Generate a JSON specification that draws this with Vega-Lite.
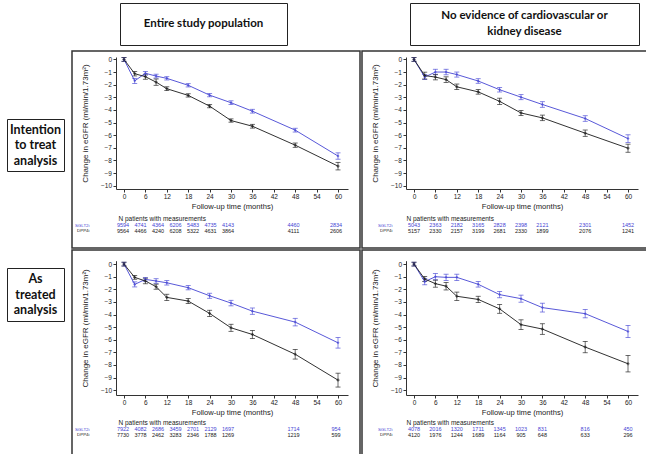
{
"$schema": "https://vega.github.io/schema/vega-lite/v6.json",
"padding": {"left": 6, "top": 2, "right": 0, "bottom": 0},
"config": {"view": {"stroke": null}, "font": "Liberation Sans", "concat": {"spacing": 0}},
"datasets": {
"series": [
{"panel":"TL","drug":"SGLT2i","month":0,"mean":0,"lo":-0.15,"hi":0.15},
{"panel":"TL","drug":"SGLT2i","month":3,"mean":-1.7,"lo":-1.9,"hi":-1.5},
{"panel":"TL","drug":"SGLT2i","month":6,"mean":-1.1,"lo":-1.25,"hi":-0.95},
{"panel":"TL","drug":"SGLT2i","month":9,"mean":-1.32,"lo":-1.47,"hi":-1.17},
{"panel":"TL","drug":"SGLT2i","month":12,"mean":-1.5,"lo":-1.63,"hi":-1.37},
{"panel":"TL","drug":"SGLT2i","month":18,"mean":-2.05,"lo":-2.18,"hi":-1.92},
{"panel":"TL","drug":"SGLT2i","month":24,"mean":-2.83,"lo":-2.96,"hi":-2.7},
{"panel":"TL","drug":"SGLT2i","month":30,"mean":-3.43,"lo":-3.58,"hi":-3.28},
{"panel":"TL","drug":"SGLT2i","month":36,"mean":-4.1,"lo":-4.25,"hi":-3.95},
{"panel":"TL","drug":"SGLT2i","month":48,"mean":-5.6,"lo":-5.75,"hi":-5.45},
{"panel":"TL","drug":"SGLT2i","month":60,"mean":-7.65,"lo":-7.9,"hi":-7.4},
{"panel":"TL","drug":"DPP4i","month":0,"mean":0,"lo":-0.15,"hi":0.15},
{"panel":"TL","drug":"DPP4i","month":3,"mean":-1.13,"lo":-1.31,"hi":-0.95},
{"panel":"TL","drug":"DPP4i","month":6,"mean":-1.37,"lo":-1.57,"hi":-1.17},
{"panel":"TL","drug":"DPP4i","month":9,"mean":-1.8,"lo":-2.05,"hi":-1.55},
{"panel":"TL","drug":"DPP4i","month":12,"mean":-2.32,"lo":-2.47,"hi":-2.17},
{"panel":"TL","drug":"DPP4i","month":18,"mean":-2.85,"lo":-2.98,"hi":-2.72},
{"panel":"TL","drug":"DPP4i","month":24,"mean":-3.7,"lo":-3.83,"hi":-3.57},
{"panel":"TL","drug":"DPP4i","month":30,"mean":-4.84,"lo":-4.97,"hi":-4.71},
{"panel":"TL","drug":"DPP4i","month":36,"mean":-5.29,"lo":-5.44,"hi":-5.14},
{"panel":"TL","drug":"DPP4i","month":48,"mean":-6.79,"lo":-6.96,"hi":-6.62},
{"panel":"TL","drug":"DPP4i","month":60,"mean":-8.45,"lo":-8.75,"hi":-8.15},
{"panel":"TR","drug":"SGLT2i","month":0,"mean":0,"lo":-0.15,"hi":0.15},
{"panel":"TR","drug":"SGLT2i","month":3,"mean":-1.4,"lo":-1.6,"hi":-1.2},
{"panel":"TR","drug":"SGLT2i","month":6,"mean":-1.0,"lo":-1.22,"hi":-0.78},
{"panel":"TR","drug":"SGLT2i","month":9,"mean":-1.0,"lo":-1.22,"hi":-0.78},
{"panel":"TR","drug":"SGLT2i","month":12,"mean":-1.2,"lo":-1.4,"hi":-1.0},
{"panel":"TR","drug":"SGLT2i","month":18,"mean":-1.71,"lo":-1.89,"hi":-1.53},
{"panel":"TR","drug":"SGLT2i","month":24,"mean":-2.4,"lo":-2.58,"hi":-2.22},
{"panel":"TR","drug":"SGLT2i","month":30,"mean":-2.99,"lo":-3.19,"hi":-2.79},
{"panel":"TR","drug":"SGLT2i","month":36,"mean":-3.57,"lo":-3.79,"hi":-3.35},
{"panel":"TR","drug":"SGLT2i","month":48,"mean":-4.68,"lo":-4.9,"hi":-4.46},
{"panel":"TR","drug":"SGLT2i","month":60,"mean":-6.27,"lo":-6.57,"hi":-5.97},
{"panel":"TR","drug":"DPP4i","month":0,"mean":0,"lo":-0.15,"hi":0.15},
{"panel":"TR","drug":"DPP4i","month":3,"mean":-1.28,"lo":-1.55,"hi":-1.01},
{"panel":"TR","drug":"DPP4i","month":6,"mean":-1.4,"lo":-1.62,"hi":-1.18},
{"panel":"TR","drug":"DPP4i","month":9,"mean":-1.6,"lo":-1.82,"hi":-1.38},
{"panel":"TR","drug":"DPP4i","month":12,"mean":-2.17,"lo":-2.39,"hi":-1.95},
{"panel":"TR","drug":"DPP4i","month":18,"mean":-2.57,"lo":-2.75,"hi":-2.39},
{"panel":"TR","drug":"DPP4i","month":24,"mean":-3.32,"lo":-3.57,"hi":-3.07},
{"panel":"TR","drug":"DPP4i","month":30,"mean":-4.24,"lo":-4.44,"hi":-4.04},
{"panel":"TR","drug":"DPP4i","month":36,"mean":-4.63,"lo":-4.85,"hi":-4.41},
{"panel":"TR","drug":"DPP4i","month":48,"mean":-5.84,"lo":-6.09,"hi":-5.59},
{"panel":"TR","drug":"DPP4i","month":60,"mean":-7.03,"lo":-7.35,"hi":-6.71},
{"panel":"BL","drug":"SGLT2i","month":0,"mean":0,"lo":-0.15,"hi":0.15},
{"panel":"BL","drug":"SGLT2i","month":3,"mean":-1.61,"lo":-1.81,"hi":-1.41},
{"panel":"BL","drug":"SGLT2i","month":6,"mean":-1.21,"lo":-1.36,"hi":-1.06},
{"panel":"BL","drug":"SGLT2i","month":9,"mean":-1.34,"lo":-1.52,"hi":-1.16},
{"panel":"BL","drug":"SGLT2i","month":12,"mean":-1.48,"lo":-1.66,"hi":-1.3},
{"panel":"BL","drug":"SGLT2i","month":18,"mean":-1.87,"lo":-2.04,"hi":-1.7},
{"panel":"BL","drug":"SGLT2i","month":24,"mean":-2.51,"lo":-2.71,"hi":-2.31},
{"panel":"BL","drug":"SGLT2i","month":30,"mean":-3.09,"lo":-3.31,"hi":-2.87},
{"panel":"BL","drug":"SGLT2i","month":36,"mean":-3.73,"lo":-3.98,"hi":-3.48},
{"panel":"BL","drug":"SGLT2i","month":48,"mean":-4.6,"lo":-4.9,"hi":-4.3},
{"panel":"BL","drug":"SGLT2i","month":60,"mean":-6.24,"lo":-6.66,"hi":-5.82},
{"panel":"BL","drug":"DPP4i","month":0,"mean":0,"lo":-0.15,"hi":0.15},
{"panel":"BL","drug":"DPP4i","month":3,"mean":-1.05,"lo":-1.2,"hi":-0.9},
{"panel":"BL","drug":"DPP4i","month":6,"mean":-1.34,"lo":-1.56,"hi":-1.12},
{"panel":"BL","drug":"DPP4i","month":9,"mean":-1.79,"lo":-1.99,"hi":-1.59},
{"panel":"BL","drug":"DPP4i","month":12,"mean":-2.64,"lo":-2.89,"hi":-2.39},
{"panel":"BL","drug":"DPP4i","month":18,"mean":-2.93,"lo":-3.13,"hi":-2.73},
{"panel":"BL","drug":"DPP4i","month":24,"mean":-3.91,"lo":-4.16,"hi":-3.66},
{"panel":"BL","drug":"DPP4i","month":30,"mean":-5.05,"lo":-5.33,"hi":-4.77},
{"panel":"BL","drug":"DPP4i","month":36,"mean":-5.58,"lo":-5.9,"hi":-5.26},
{"panel":"BL","drug":"DPP4i","month":48,"mean":-7.15,"lo":-7.53,"hi":-6.77},
{"panel":"BL","drug":"DPP4i","month":60,"mean":-9.2,"lo":-9.75,"hi":-8.65},
{"panel":"BR","drug":"SGLT2i","month":0,"mean":0,"lo":-0.15,"hi":0.15},
{"panel":"BR","drug":"SGLT2i","month":3,"mean":-1.39,"lo":-1.64,"hi":-1.14},
{"panel":"BR","drug":"SGLT2i","month":6,"mean":-1.0,"lo":-1.25,"hi":-0.75},
{"panel":"BR","drug":"SGLT2i","month":9,"mean":-1.05,"lo":-1.3,"hi":-0.8},
{"panel":"BR","drug":"SGLT2i","month":12,"mean":-1.05,"lo":-1.3,"hi":-0.8},
{"panel":"BR","drug":"SGLT2i","month":18,"mean":-1.6,"lo":-1.82,"hi":-1.38},
{"panel":"BR","drug":"SGLT2i","month":24,"mean":-2.42,"lo":-2.67,"hi":-2.17},
{"panel":"BR","drug":"SGLT2i","month":30,"mean":-2.74,"lo":-3.02,"hi":-2.46},
{"panel":"BR","drug":"SGLT2i","month":36,"mean":-3.45,"lo":-3.8,"hi":-3.1},
{"panel":"BR","drug":"SGLT2i","month":48,"mean":-3.93,"lo":-4.26,"hi":-3.6},
{"panel":"BR","drug":"SGLT2i","month":60,"mean":-5.34,"lo":-5.82,"hi":-4.86},
{"panel":"BR","drug":"DPP4i","month":0,"mean":0,"lo":-0.15,"hi":0.15},
{"panel":"BR","drug":"DPP4i","month":3,"mean":-1.18,"lo":-1.38,"hi":-0.98},
{"panel":"BR","drug":"DPP4i","month":6,"mean":-1.55,"lo":-1.83,"hi":-1.27},
{"panel":"BR","drug":"DPP4i","month":9,"mean":-1.75,"lo":-2.05,"hi":-1.45},
{"panel":"BR","drug":"DPP4i","month":12,"mean":-2.55,"lo":-2.88,"hi":-2.22},
{"panel":"BR","drug":"DPP4i","month":18,"mean":-2.8,"lo":-3.05,"hi":-2.55},
{"panel":"BR","drug":"DPP4i","month":24,"mean":-3.55,"lo":-3.9,"hi":-3.2},
{"panel":"BR","drug":"DPP4i","month":30,"mean":-4.8,"lo":-5.18,"hi":-4.42},
{"panel":"BR","drug":"DPP4i","month":36,"mean":-5.15,"lo":-5.57,"hi":-4.73},
{"panel":"BR","drug":"DPP4i","month":48,"mean":-6.58,"lo":-7.03,"hi":-6.13},
{"panel":"BR","drug":"DPP4i","month":60,"mean":-7.9,"lo":-8.55,"hi":-7.25}
],
"ns": [
{"panel":"TL","drug":"SGLT2i","month":0,"n":"9594"},{"panel":"TL","drug":"SGLT2i","month":6,"n":"4741"},{"panel":"TL","drug":"SGLT2i","month":12,"n":"4364"},{"panel":"TL","drug":"SGLT2i","month":18,"n":"6206"},{"panel":"TL","drug":"SGLT2i","month":24,"n":"5483"},{"panel":"TL","drug":"SGLT2i","month":30,"n":"4735"},{"panel":"TL","drug":"SGLT2i","month":36,"n":"4143"},{"panel":"TL","drug":"SGLT2i","month":48,"n":"4460"},{"panel":"TL","drug":"SGLT2i","month":60,"n":"2834"},
{"panel":"TL","drug":"DPP4i","month":0,"n":"9564"},{"panel":"TL","drug":"DPP4i","month":6,"n":"4466"},{"panel":"TL","drug":"DPP4i","month":12,"n":"4240"},{"panel":"TL","drug":"DPP4i","month":18,"n":"6208"},{"panel":"TL","drug":"DPP4i","month":24,"n":"5322"},{"panel":"TL","drug":"DPP4i","month":30,"n":"4631"},{"panel":"TL","drug":"DPP4i","month":36,"n":"3864"},{"panel":"TL","drug":"DPP4i","month":48,"n":"4111"},{"panel":"TL","drug":"DPP4i","month":60,"n":"2606"},
{"panel":"TR","drug":"SGLT2i","month":0,"n":"5043"},{"panel":"TR","drug":"SGLT2i","month":6,"n":"2363"},{"panel":"TR","drug":"SGLT2i","month":12,"n":"2182"},{"panel":"TR","drug":"SGLT2i","month":18,"n":"3165"},{"panel":"TR","drug":"SGLT2i","month":24,"n":"2828"},{"panel":"TR","drug":"SGLT2i","month":30,"n":"2398"},{"panel":"TR","drug":"SGLT2i","month":36,"n":"2121"},{"panel":"TR","drug":"SGLT2i","month":48,"n":"2301"},{"panel":"TR","drug":"SGLT2i","month":60,"n":"1452"},
{"panel":"TR","drug":"DPP4i","month":0,"n":"5157"},{"panel":"TR","drug":"DPP4i","month":6,"n":"2330"},{"panel":"TR","drug":"DPP4i","month":12,"n":"2157"},{"panel":"TR","drug":"DPP4i","month":18,"n":"3199"},{"panel":"TR","drug":"DPP4i","month":24,"n":"2681"},{"panel":"TR","drug":"DPP4i","month":30,"n":"2330"},{"panel":"TR","drug":"DPP4i","month":36,"n":"1899"},{"panel":"TR","drug":"DPP4i","month":48,"n":"2076"},{"panel":"TR","drug":"DPP4i","month":60,"n":"1241"},
{"panel":"BL","drug":"SGLT2i","month":0,"n":"7922"},{"panel":"BL","drug":"SGLT2i","month":6,"n":"4082"},{"panel":"BL","drug":"SGLT2i","month":12,"n":"2686"},{"panel":"BL","drug":"SGLT2i","month":18,"n":"3459"},{"panel":"BL","drug":"SGLT2i","month":24,"n":"2701"},{"panel":"BL","drug":"SGLT2i","month":30,"n":"2129"},{"panel":"BL","drug":"SGLT2i","month":36,"n":"1697"},{"panel":"BL","drug":"SGLT2i","month":48,"n":"1714"},{"panel":"BL","drug":"SGLT2i","month":60,"n":"954"},
{"panel":"BL","drug":"DPP4i","month":0,"n":"7730"},{"panel":"BL","drug":"DPP4i","month":6,"n":"3778"},{"panel":"BL","drug":"DPP4i","month":12,"n":"2462"},{"panel":"BL","drug":"DPP4i","month":18,"n":"3283"},{"panel":"BL","drug":"DPP4i","month":24,"n":"2346"},{"panel":"BL","drug":"DPP4i","month":30,"n":"1788"},{"panel":"BL","drug":"DPP4i","month":36,"n":"1269"},{"panel":"BL","drug":"DPP4i","month":48,"n":"1219"},{"panel":"BL","drug":"DPP4i","month":60,"n":"599"},
{"panel":"BR","drug":"SGLT2i","month":0,"n":"4078"},{"panel":"BR","drug":"SGLT2i","month":6,"n":"2016"},{"panel":"BR","drug":"SGLT2i","month":12,"n":"1320"},{"panel":"BR","drug":"SGLT2i","month":18,"n":"1711"},{"panel":"BR","drug":"SGLT2i","month":24,"n":"1345"},{"panel":"BR","drug":"SGLT2i","month":30,"n":"1023"},{"panel":"BR","drug":"SGLT2i","month":36,"n":"831"},{"panel":"BR","drug":"SGLT2i","month":48,"n":"816"},{"panel":"BR","drug":"SGLT2i","month":60,"n":"450"},
{"panel":"BR","drug":"DPP4i","month":0,"n":"4120"},{"panel":"BR","drug":"DPP4i","month":6,"n":"1976"},{"panel":"BR","drug":"DPP4i","month":12,"n":"1244"},{"panel":"BR","drug":"DPP4i","month":18,"n":"1689"},{"panel":"BR","drug":"DPP4i","month":24,"n":"1164"},{"panel":"BR","drug":"DPP4i","month":30,"n":"905"},{"panel":"BR","drug":"DPP4i","month":36,"n":"648"},{"panel":"BR","drug":"DPP4i","month":48,"n":"633"},{"panel":"BR","drug":"DPP4i","month":60,"n":"296"}
]
},
"vconcat": [
{"hconcat": [
 {"width": 112, "height": 42, "data": {"values": [{}]}, "mark": "text", "encoding": {"text": {"value": ""}}},
 {"width": 167, "height": 42, "view": {"stroke": "#222", "strokeWidth": 1}, "data": {"values": [{}]}, "mark": {"type": "text", "font": "Lato", "fontWeight": "bold", "fontSize": 11.5, "color": "#111"}, "encoding": {"text": {"value": "Entire study population"}}},
 {"width": 121, "height": 42, "data": {"values": [{}]}, "mark": "text", "encoding": {"text": {"value": ""}}},
 {"width": 229, "height": 42, "view": {"stroke": "#222", "strokeWidth": 1}, "data": {"values": [{}]}, "mark": {"type": "text", "font": "Lato", "fontWeight": "bold", "fontSize": 11.5, "lineHeight": 16, "dy": -8, "color": "#111"}, "encoding": {"text": {"value": ["No evidence of  cardiovascular or", "kidney disease"]}}}
], "spacing": 0},
{"vconcat": [
 {"hconcat": [
  {"vconcat": [
   {"width": 57, "height": 67, "data": {"values": [{}]}, "mark": "text", "encoding": {"text": {"value": ""}}},
   {"width": 57, "height": 52, "view": {"stroke": "#222", "strokeWidth": 1}, "data": {"values": [{}]}, "mark": {"type": "text", "font": "Lato", "fontWeight": "bold", "fontSize": 12.5, "lineHeight": 15.5, "dy": -15.5, "color": "#111"}, "encoding": {"text": {"value": ["Intention", "to treat", "analysis"]}}}
  ], "spacing": 0},
  {"hconcat": [
   {"width": 288, "height": 197, "view": {"stroke": "#333", "strokeWidth": 1.5},
    "resolve": {"scale": {"x": "independent", "y": "independent"}},
    "layer": [
     {"data": {"name": "series"}, "transform": [{"filter": "datum.panel === 'TL'"}],
      "encoding": {
       "x": {"field": "month", "type": "quantitative", "scale": {"domain": [-2.24, 62.8], "range": [44, 276], "nice": false, "zero": false}, "axis": {"orient": "bottom", "offset": -59, "values": [0,6,12,18,24,30,36,42,48,54,60], "title": "Follow-up time (months)", "labelFontSize": 6.5, "titleFontSize": 7.6, "titleFontWeight": "normal", "tickSize": 3, "labelPadding": 1.5, "titlePadding": 2, "grid": false, "domainColor": "#333", "tickColor": "#333", "labelColor": "#222", "titleColor": "#222"}},
       "y": {"field": "mean", "type": "quantitative", "title": "Change in eGFR (ml/min/1.73m²)", "scale": {"domain": [-10.26, 0.19], "range": [138, 6], "nice": false, "zero": false}, "axis": {"orient": "left", "offset": -44, "values": [0,-1,-2,-3,-4,-5,-6,-7,-8,-9,-10], "labelFontSize": 6.5, "titleFontSize": 8, "titleFontWeight": "normal", "tickSize": 3, "labelPadding": 1.5, "titlePadding": 11, "grid": false, "domainColor": "#333", "tickColor": "#333", "labelColor": "#222", "titleColor": "#222"}},
       "color": {"field": "drug", "type": "nominal", "scale": {"domain": ["SGLT2i", "DPP4i"], "range": ["#4545d4", "#1a1a1a"]}, "legend": null}
      },
      "layer": [
       {"mark": {"type": "errorbar", "ticks": {"size": 5}, "thickness": 0.8, "opacity": 0.8}, "encoding": {"y": {"field": "lo", "type": "quantitative", "title": "Change in eGFR (ml/min/1.73m²)"}, "y2": {"field": "hi"}}},
       {"mark": {"type": "line", "strokeWidth": 0.9}},
       {"mark": {"type": "point", "filled": true, "size": 9}, "encoding": {"shape": {"field": "drug", "type": "nominal", "scale": {"domain": ["SGLT2i", "DPP4i"], "range": ["diamond", "cross"]}, "legend": null}}},
       {"data": {"values": [{}]}, "mark": {"type": "rect", "fillOpacity": 0, "stroke": "#333", "strokeWidth": 0.8}, "encoding": {"x": {"datum": -2.24}, "x2": {"datum": 62.8}, "y": {"datum": 0.19}, "y2": {"datum": -10.26}, "color": {"value": "#333"}}}
      ]
     },
     {"data": {"name": "ns"}, "transform": [{"filter": "datum.panel === 'TL'"}],
      "mark": {"type": "text", "fontSize": 5.5},
      "encoding": {
       "x": {"field": "month", "type": "quantitative", "scale": {"domain": [0, 36, 48, 60], "range": [51, 156, 221.5, 264], "nice": false, "zero": false}, "axis": null},
       "y": {"field": "drug", "type": "nominal", "scale": {"type": "point", "domain": ["SGLT2i", "DPP4i"], "range": [174, 179.5], "padding": 0}, "axis": {"orient": "left", "offset": -17, "domain": false, "ticks": false, "labelPadding": 0, "labelFontSize": 4.4, "labelColor": {"condition": {"test": "datum.value === 'SGLT2i'", "value": "#4545d4"}, "value": "#1a1a1a"}, "title": "N patients with measurements", "titleAngle": 0, "titleAlign": "left", "titleBaseline": "middle", "titleX": 29, "titleY": 167, "titleFontSize": 6.5, "titleFontWeight": "normal", "titleColor": "#222"}},
       "text": {"field": "n", "type": "nominal"},
       "color": {"field": "drug", "type": "nominal", "scale": {"domain": ["SGLT2i", "DPP4i"], "range": ["#4545d4", "#1a1a1a"]}, "legend": null}
      }
     }
    ]
   },
   {"width": 288, "height": 197, "view": {"stroke": "#333", "strokeWidth": 1.5},
    "resolve": {"scale": {"x": "independent", "y": "independent"}},
    "layer": [
     {"data": {"name": "series"}, "transform": [{"filter": "datum.panel === 'TR'"}],
      "encoding": {
       "x": {"field": "month", "type": "quantitative", "scale": {"domain": [-2.24, 62.8], "range": [44, 276], "nice": false, "zero": false}, "axis": {"orient": "bottom", "offset": -59, "values": [0,6,12,18,24,30,36,42,48,54,60], "title": "Follow-up time (months)", "labelFontSize": 6.5, "titleFontSize": 7.6, "titleFontWeight": "normal", "tickSize": 3, "labelPadding": 1.5, "titlePadding": 2, "grid": false, "domainColor": "#333", "tickColor": "#333", "labelColor": "#222", "titleColor": "#222"}},
       "y": {"field": "mean", "type": "quantitative", "title": "Change in eGFR (ml/min/1.73m²)", "scale": {"domain": [-10.26, 0.19], "range": [138, 6], "nice": false, "zero": false}, "axis": {"orient": "left", "offset": -44, "values": [0,-1,-2,-3,-4,-5,-6,-7,-8,-9,-10], "labelFontSize": 6.5, "titleFontSize": 8, "titleFontWeight": "normal", "tickSize": 3, "labelPadding": 1.5, "titlePadding": 11, "grid": false, "domainColor": "#333", "tickColor": "#333", "labelColor": "#222", "titleColor": "#222"}},
       "color": {"field": "drug", "type": "nominal", "scale": {"domain": ["SGLT2i", "DPP4i"], "range": ["#4545d4", "#1a1a1a"]}, "legend": null}
      },
      "layer": [
       {"mark": {"type": "errorbar", "ticks": {"size": 5}, "thickness": 0.8, "opacity": 0.8}, "encoding": {"y": {"field": "lo", "type": "quantitative", "title": "Change in eGFR (ml/min/1.73m²)"}, "y2": {"field": "hi"}}},
       {"mark": {"type": "line", "strokeWidth": 0.9}},
       {"mark": {"type": "point", "filled": true, "size": 9}, "encoding": {"shape": {"field": "drug", "type": "nominal", "scale": {"domain": ["SGLT2i", "DPP4i"], "range": ["diamond", "cross"]}, "legend": null}}},
       {"data": {"values": [{}]}, "mark": {"type": "rect", "fillOpacity": 0, "stroke": "#333", "strokeWidth": 0.8}, "encoding": {"x": {"datum": -2.24}, "x2": {"datum": 62.8}, "y": {"datum": 0.19}, "y2": {"datum": -10.26}, "color": {"value": "#333"}}}
      ]
     },
     {"data": {"name": "ns"}, "transform": [{"filter": "datum.panel === 'TR'"}],
      "mark": {"type": "text", "fontSize": 5.5},
      "encoding": {
       "x": {"field": "month", "type": "quantitative", "scale": {"domain": [0, 60], "range": [52, 266], "nice": false, "zero": false}, "axis": null},
       "y": {"field": "drug", "type": "nominal", "scale": {"type": "point", "domain": ["SGLT2i", "DPP4i"], "range": [174, 179.5], "padding": 0}, "axis": {"orient": "left", "offset": -30, "domain": false, "ticks": false, "labelPadding": 0, "labelFontSize": 4.4, "labelColor": {"condition": {"test": "datum.value === 'SGLT2i'", "value": "#4545d4"}, "value": "#1a1a1a"}, "title": "N patients with measurements", "titleAngle": 0, "titleAlign": "left", "titleBaseline": "middle", "titleX": 14, "titleY": 167, "titleFontSize": 6.5, "titleFontWeight": "normal", "titleColor": "#222"}},
       "text": {"field": "n", "type": "nominal"},
       "color": {"field": "drug", "type": "nominal", "scale": {"domain": ["SGLT2i", "DPP4i"], "range": ["#4545d4", "#1a1a1a"]}, "legend": null}
      }
     }
    ]
   }
  ], "spacing": 0}
 ], "spacing": 6},
 {"hconcat": [
  {"vconcat": [
   {"width": 57, "height": 17, "data": {"values": [{}]}, "mark": "text", "encoding": {"text": {"value": ""}}},
   {"width": 57, "height": 53, "view": {"stroke": "#222", "strokeWidth": 1}, "data": {"values": [{}]}, "mark": {"type": "text", "font": "Lato", "fontWeight": "bold", "fontSize": 12.5, "lineHeight": 15.5, "dy": -15.5, "color": "#111"}, "encoding": {"text": {"value": ["As", "treated", "analysis"]}}}
  ], "spacing": 0},
  {"hconcat": [
   {"width": 288, "height": 205, "view": {"stroke": "#333", "strokeWidth": 1.5},
    "resolve": {"scale": {"x": "independent", "y": "independent"}},
    "layer": [
     {"data": {"name": "series"}, "transform": [{"filter": "datum.panel === 'BL'"}],
      "encoding": {
       "x": {"field": "month", "type": "quantitative", "scale": {"domain": [-2.24, 62.8], "range": [44, 276], "nice": false, "zero": false}, "axis": {"orient": "bottom", "offset": -60, "values": [0,6,12,18,24,30,36,42,48,54,60], "title": "Follow-up time (months)", "labelFontSize": 6.5, "titleFontSize": 7.6, "titleFontWeight": "normal", "tickSize": 3, "labelPadding": 1.5, "titlePadding": 2, "grid": false, "domainColor": "#333", "tickColor": "#333", "labelColor": "#222", "titleColor": "#222"}},
       "y": {"field": "mean", "type": "quantitative", "title": "Change in eGFR (ml/min/1.73m²)", "scale": {"domain": [-10.38, 0.27], "range": [145, 10.7], "nice": false, "zero": false}, "axis": {"orient": "left", "offset": -44, "values": [0,-1,-2,-3,-4,-5,-6,-7,-8,-9,-10], "labelFontSize": 6.5, "titleFontSize": 8, "titleFontWeight": "normal", "tickSize": 3, "labelPadding": 1.5, "titlePadding": 11, "grid": false, "domainColor": "#333", "tickColor": "#333", "labelColor": "#222", "titleColor": "#222"}},
       "color": {"field": "drug", "type": "nominal", "scale": {"domain": ["SGLT2i", "DPP4i"], "range": ["#4545d4", "#1a1a1a"]}, "legend": null}
      },
      "layer": [
       {"mark": {"type": "errorbar", "ticks": {"size": 5}, "thickness": 0.8, "opacity": 0.8}, "encoding": {"y": {"field": "lo", "type": "quantitative", "title": "Change in eGFR (ml/min/1.73m²)"}, "y2": {"field": "hi"}}},
       {"mark": {"type": "line", "strokeWidth": 0.9}},
       {"mark": {"type": "point", "filled": true, "size": 9}, "encoding": {"shape": {"field": "drug", "type": "nominal", "scale": {"domain": ["SGLT2i", "DPP4i"], "range": ["diamond", "cross"]}, "legend": null}}},
       {"data": {"values": [{}]}, "mark": {"type": "rect", "fillOpacity": 0, "stroke": "#333", "strokeWidth": 0.8}, "encoding": {"x": {"datum": -2.24}, "x2": {"datum": 62.8}, "y": {"datum": 0.27}, "y2": {"datum": -10.38}, "color": {"value": "#333"}}}
      ]
     },
     {"data": {"name": "ns"}, "transform": [{"filter": "datum.panel === 'BL'"}],
      "mark": {"type": "text", "fontSize": 5.5},
      "encoding": {
       "x": {"field": "month", "type": "quantitative", "scale": {"domain": [0, 36, 48, 60], "range": [51, 156, 221.5, 264], "nice": false, "zero": false}, "axis": null},
       "y": {"field": "drug", "type": "nominal", "scale": {"type": "point", "domain": ["SGLT2i", "DPP4i"], "range": [179, 184.5], "padding": 0}, "axis": {"orient": "left", "offset": -17, "domain": false, "ticks": false, "labelPadding": 0, "labelFontSize": 4.4, "labelColor": {"condition": {"test": "datum.value === 'SGLT2i'", "value": "#4545d4"}, "value": "#1a1a1a"}, "title": "N patients with measurements", "titleAngle": 0, "titleAlign": "left", "titleBaseline": "middle", "titleX": 29, "titleY": 172, "titleFontSize": 6.5, "titleFontWeight": "normal", "titleColor": "#222"}},
       "text": {"field": "n", "type": "nominal"},
       "color": {"field": "drug", "type": "nominal", "scale": {"domain": ["SGLT2i", "DPP4i"], "range": ["#4545d4", "#1a1a1a"]}, "legend": null}
      }
     }
    ]
   },
   {"width": 288, "height": 205, "view": {"stroke": "#333", "strokeWidth": 1.5},
    "resolve": {"scale": {"x": "independent", "y": "independent"}},
    "layer": [
     {"data": {"name": "series"}, "transform": [{"filter": "datum.panel === 'BR'"}],
      "encoding": {
       "x": {"field": "month", "type": "quantitative", "scale": {"domain": [-2.24, 62.8], "range": [44, 276], "nice": false, "zero": false}, "axis": {"orient": "bottom", "offset": -60, "values": [0,6,12,18,24,30,36,42,48,54,60], "title": "Follow-up time (months)", "labelFontSize": 6.5, "titleFontSize": 7.6, "titleFontWeight": "normal", "tickSize": 3, "labelPadding": 1.5, "titlePadding": 2, "grid": false, "domainColor": "#333", "tickColor": "#333", "labelColor": "#222", "titleColor": "#222"}},
       "y": {"field": "mean", "type": "quantitative", "title": "Change in eGFR (ml/min/1.73m²)", "scale": {"domain": [-10.38, 0.27], "range": [145, 10.7], "nice": false, "zero": false}, "axis": {"orient": "left", "offset": -44, "values": [0,-1,-2,-3,-4,-5,-6,-7,-8,-9,-10], "labelFontSize": 6.5, "titleFontSize": 8, "titleFontWeight": "normal", "tickSize": 3, "labelPadding": 1.5, "titlePadding": 11, "grid": false, "domainColor": "#333", "tickColor": "#333", "labelColor": "#222", "titleColor": "#222"}},
       "color": {"field": "drug", "type": "nominal", "scale": {"domain": ["SGLT2i", "DPP4i"], "range": ["#4545d4", "#1a1a1a"]}, "legend": null}
      },
      "layer": [
       {"mark": {"type": "errorbar", "ticks": {"size": 5}, "thickness": 0.8, "opacity": 0.8}, "encoding": {"y": {"field": "lo", "type": "quantitative", "title": "Change in eGFR (ml/min/1.73m²)"}, "y2": {"field": "hi"}}},
       {"mark": {"type": "line", "strokeWidth": 0.9}},
       {"mark": {"type": "point", "filled": true, "size": 9}, "encoding": {"shape": {"field": "drug", "type": "nominal", "scale": {"domain": ["SGLT2i", "DPP4i"], "range": ["diamond", "cross"]}, "legend": null}}},
       {"data": {"values": [{}]}, "mark": {"type": "rect", "fillOpacity": 0, "stroke": "#333", "strokeWidth": 0.8}, "encoding": {"x": {"datum": -2.24}, "x2": {"datum": 62.8}, "y": {"datum": 0.27}, "y2": {"datum": -10.38}, "color": {"value": "#333"}}}
      ]
     },
     {"data": {"name": "ns"}, "transform": [{"filter": "datum.panel === 'BR'"}],
      "mark": {"type": "text", "fontSize": 5.5},
      "encoding": {
       "x": {"field": "month", "type": "quantitative", "scale": {"domain": [0, 60], "range": [52, 266], "nice": false, "zero": false}, "axis": null},
       "y": {"field": "drug", "type": "nominal", "scale": {"type": "point", "domain": ["SGLT2i", "DPP4i"], "range": [179, 184.5], "padding": 0}, "axis": {"orient": "left", "offset": -30, "domain": false, "ticks": false, "labelPadding": 0, "labelFontSize": 4.4, "labelColor": {"condition": {"test": "datum.value === 'SGLT2i'", "value": "#4545d4"}, "value": "#1a1a1a"}, "title": "N patients with measurements", "titleAngle": 0, "titleAlign": "left", "titleBaseline": "middle", "titleX": 14, "titleY": 172, "titleFontSize": 6.5, "titleFontWeight": "normal", "titleColor": "#222"}},
       "text": {"field": "n", "type": "nominal"},
       "color": {"field": "drug", "type": "nominal", "scale": {"domain": ["SGLT2i", "DPP4i"], "range": ["#4545d4", "#1a1a1a"]}, "legend": null}
      }
     }
    ]
   }
  ], "spacing": 0}
 ], "spacing": 6}
], "spacing": 0}
], "spacing": 4
}
